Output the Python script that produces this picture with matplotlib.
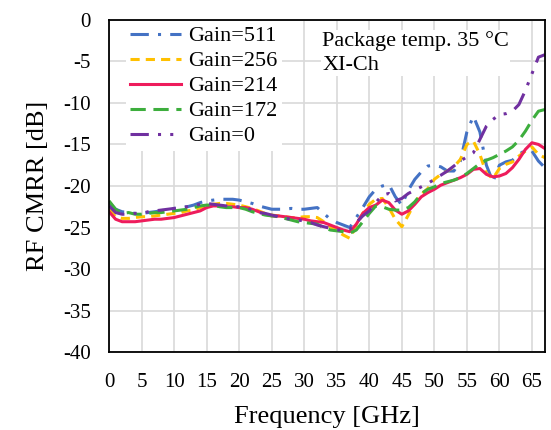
import matplotlib
matplotlib.use("Agg")
import matplotlib.pyplot as plt
import numpy as np

# frequency grid [GHz] and RF CMRR per gain setting [dB]
freq = np.arange(0, 68)

cmrr_511 = [-22.0, -22.8, -23.1, -23.2, -23.3, -23.3, -23.2, -23.1, -23.0, -22.8,
            -22.7, -22.6, -22.5, -22.3, -22.0, -21.8, -21.7, -21.6, -21.6, -21.6,
            -21.7, -21.9, -22.1, -22.4, -22.6, -22.8, -22.8, -22.8, -22.7, -22.8,
            -22.8, -22.7, -22.6, -23.3, -24.0, -24.4, -24.7, -25.0, -23.8, -22.6,
            -21.3, -20.4, -20.0, -19.8, -21.3, -22.3, -20.5, -19.2, -18.3, -17.6,
            -17.5, -17.7, -18.2, -18.2, -17.0, -13.5, -11.6, -13.5, -17.5, -19.5,
            -17.5, -17.1, -16.9, -16.2, -15.7, -15.8, -17.0, -17.8]

cmrr_256 = [-22.8, -23.7, -23.9, -23.9, -23.8, -23.7, -23.7, -23.6, -23.5, -23.4,
            -23.3, -23.2, -23.0, -22.9, -22.6, -22.4, -22.2, -22.1, -22.1, -22.2,
            -22.3, -22.5, -22.7, -23.0, -23.3, -23.5, -23.6, -23.7, -23.8, -23.8,
            -23.7, -23.7, -23.8, -24.3, -24.9, -25.4, -25.9, -26.3, -24.8, -23.3,
            -22.2, -21.6, -21.5, -22.6, -24.0, -24.9, -23.5, -22.0, -21.0, -20.3,
            -19.2, -18.6, -18.2, -17.7, -16.8, -15.0, -14.6, -16.2, -18.5, -19.1,
            -17.9, -17.4, -17.1, -16.4, -15.8, -15.3, -16.2, -16.6]

cmrr_214 = [-23.1, -24.0, -24.3, -24.3, -24.3, -24.2, -24.1, -24.0, -24.0, -23.9,
            -23.8, -23.6, -23.4, -23.2, -23.0, -22.6, -22.4, -22.4, -22.5, -22.5,
            -22.6, -22.6, -22.8, -23.1, -23.4, -23.6, -23.6, -23.7, -23.8, -23.9,
            -24.0, -24.2, -24.3, -24.4, -24.7, -25.0, -25.3, -25.5, -24.6, -23.3,
            -22.6, -22.3, -21.7, -22.0, -22.9, -23.4, -23.0, -22.2, -21.3, -20.8,
            -20.4, -19.9, -19.6, -19.3, -19.0, -18.6, -18.0, -17.9, -18.6, -18.9,
            -18.8, -18.5, -17.8, -16.8, -15.6, -14.8, -15.0, -15.5]

cmrr_172 = [-21.8, -22.8, -23.3, -23.2, -23.4, -23.4, -23.3, -23.2, -23.2, -23.1,
            -23.0, -22.9, -22.8, -22.6, -22.4, -22.3, -22.3, -22.5, -22.6, -22.6,
            -22.6, -22.8, -23.1, -23.3, -23.5, -23.6, -23.7, -23.9, -24.1, -24.3,
            -24.4, -24.5, -24.6, -25.0, -25.3, -25.4, -25.5, -25.7, -25.3, -24.3,
            -23.3, -22.4, -22.5, -22.8, -22.9, -22.9, -22.6, -21.9, -20.9, -20.4,
            -20.1, -19.7, -19.5, -19.3, -19.0, -18.5, -17.9, -17.3, -16.9, -16.6,
            -16.2, -15.8, -15.3, -14.5, -13.4, -12.1, -11.0, -10.8]

cmrr_0 = [-22.4, -23.2, -23.4, -23.4, -23.3, -23.3, -23.1, -23.0, -22.9, -22.8,
          -22.7, -22.6, -22.5, -22.4, -22.2, -22.1, -22.2, -22.3, -22.4, -22.5,
          -22.5, -22.6, -22.9, -23.2, -23.3, -23.5, -23.7, -23.9, -24.0, -24.1,
          -24.2, -24.4, -24.7, -24.9, -25.1, -25.3, -25.3, -25.2, -24.4, -23.6,
          -23.0, -22.0, -21.1, -20.9, -21.8, -21.5, -20.9, -20.5, -20.1, -19.7,
          -19.2, -18.7, -18.2, -17.6, -17.0, -16.5, -16.0, -14.4, -12.8, -12.0,
          -11.4, -11.3, -11.0, -10.2, -8.5, -6.5, -4.5, -4.2]

labels = ["Gain=511", "Gain=256", "Gain=214", "Gain=172", "Gain=0"]
series = [cmrr_511, cmrr_256, cmrr_214, cmrr_172, cmrr_0]
colors = ["#4472C4", "#FFC000", "#EE1C5C", "#3DAE3D", "#7030A0"]
styles = [(0, (6, 3, 1, 3)), (0, (3, 2)), "-", (0, (5, 2.5)), (0, (6, 3, 1, 3, 1, 3))]

plt.rcParams["font.family"] = ["Liberation Serif", "DejaVu Serif"]
plt.rcParams["axes.unicode_minus"] = False

fig = plt.figure(figsize=(5.51, 4.30), dpi=100)
ax = fig.add_axes([0.198, 0.181, 0.791, 0.773])

for y, lab, c, ls in zip(series, labels, colors, styles):
    ax.plot(freq, y, color=c, linestyle=ls, linewidth=2.2, label=lab)

ax.set_xlim(0, 67)
ax.set_ylim(-40, 0)
ax.set_xticks(np.arange(0, 66, 5))
ax.set_yticks(np.arange(-40, 1, 5))
ax.tick_params(length=0, labelsize=15)
ax.tick_params(axis="x", pad=15)
ax.tick_params(axis="y", pad=13)
ax.grid(True, color="#d9d9d9", linewidth=1.2)
ax.set_axisbelow(True)
for s in ax.spines.values():
    s.set_color("black")
    s.set_linewidth(1.3)
    s.set_zorder(5)

ax.set_xlabel("Frequency [GHz]", fontsize=19, labelpad=10)
ax.set_ylabel("RF CMRR [dB]", fontsize=19, labelpad=10)

leg = ax.legend(loc="upper left", bbox_to_anchor=(0.038, 0.995), fontsize=16,
                frameon=True, fancybox=False, edgecolor="none", framealpha=1,
                handlelength=2.3, handletextpad=0.3, labelspacing=0.2,
                borderpad=0.2, borderaxespad=0)

ax.text(0.489, 0.965, "Package temp. 35 °C\nXI-Ch", transform=ax.transAxes,
        fontsize=16, va="top", ha="left", linespacing=1.3,
        bbox=dict(facecolor="white", edgecolor="none", pad=1))

fig.savefig("out.png", dpi=100)
